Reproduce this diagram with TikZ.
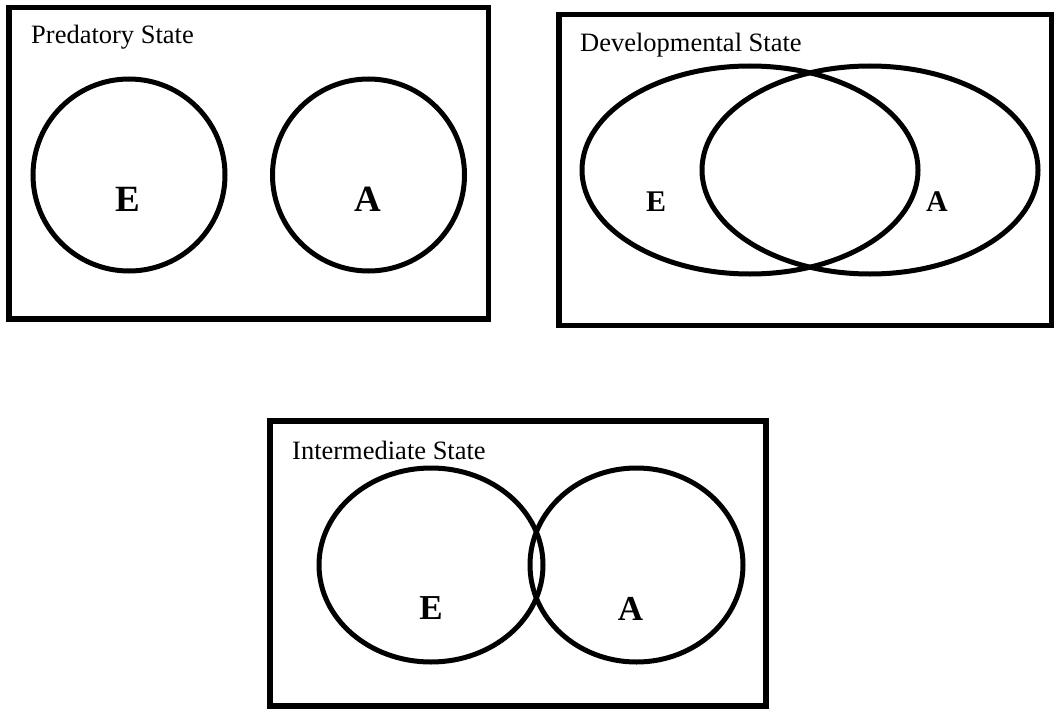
\documentclass[tikz,border=0pt]{standalone}
\usepackage{fontspec}
\setmainfont{Liberation Serif}
\usepackage{tikz}
\usetikzlibrary{positioning}

\begin{document}
\begin{tikzpicture}[
    x=1pt, y=-1pt,
    frame/.style={draw=black, line width=5.5pt},
    ring/.style={draw=black, line width=5pt},
    title/.style={anchor=base west, inner sep=0pt, font=\fontsize{26.5}{30}\selectfont},
    setlabel/.style={inner sep=0pt, font=\bfseries\fontsize{#1}{#1}\selectfont}
]
\useasboundingbox (0,0) rectangle (1054,709);
% predatory
\draw[frame] (9,7.5) rectangle (488.5,319);
\node[title] (pred) at (31,44) {Predatory State};
\draw[ring] (129,175) ellipse [x radius=96pt, y radius=96pt];
\draw[ring] (368.5,175) ellipse [x radius=96pt, y radius=96pt];
\node[setlabel=37] (predE) at (128,199.5) {E};
\node[setlabel=37] (predA) at (367.5,199.5) {A};
% developmental
\draw[frame] (559,14.5) rectangle (1051.5,325.5);
\node[title] (dev) at (580,51.7) {Developmental State};
\draw[ring] (750,170) ellipse [x radius=168pt, y radius=104pt];
\draw[ring] (870,170) ellipse [x radius=168pt, y radius=104pt];
\node[setlabel=30] (devE) at (656,202) {E};
\node[setlabel=30] (devA) at (937,202) {A};
% intermediate
\draw[frame] (270,421) rectangle (766,706);
\node[title] (inter) at (292,459) {Intermediate State};
\draw[ring] (431,565) ellipse [x radius=112pt, y radius=97pt];
\draw[ring] (636.5,565) ellipse [x radius=106.5pt, y radius=97pt];
\node[setlabel=35] (interE) at (431,608.5) {E};
\node[setlabel=35] (interA) at (630.5,608.5) {A};
\end{tikzpicture}
\end{document}
